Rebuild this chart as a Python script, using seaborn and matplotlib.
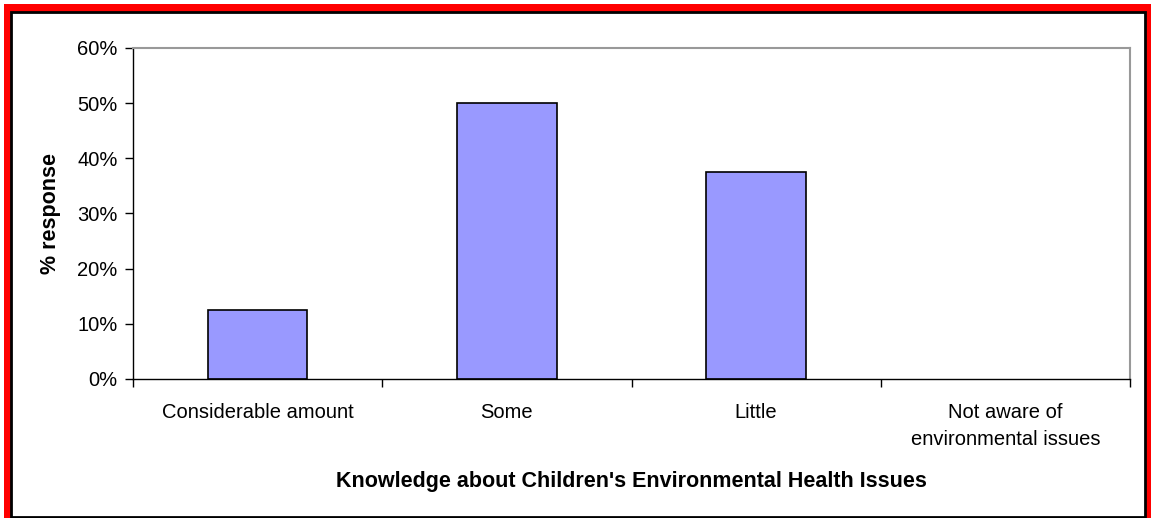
import numpy as np
import pandas as pd
import matplotlib
matplotlib.use('Agg')
import matplotlib.pyplot as plt
import seaborn as sns
from matplotlib.patches import Rectangle
from matplotlib.ticker import PercentFormatter, FixedLocator

categories = ["Considerable amount", "Some", "Little", "Not aware of\nenvironmental issues"]
response = [12.5, 50.0, 37.5, 0.0]

df = pd.DataFrame({"knowledge": categories, "response": response})

sns.set_style("white")
plt.rcParams['font.family'] = ['Liberation Sans', 'DejaVu Sans']
plt.rcParams['text.color'] = 'black'
plt.rcParams['axes.labelcolor'] = 'black'
plt.rcParams['xtick.color'] = 'black'
plt.rcParams['ytick.color'] = 'black'

W, H = 1151, 518
fig = plt.figure(figsize=(W / 100, H / 100), dpi=100)

# red outer frame, white card with thin black border (behind the axes)
fig.patches.append(Rectangle((4 / W, 0), 1, 1 - 4 / H, transform=fig.transFigure,
                             facecolor='red', edgecolor='none', zorder=-2))
fig.patches.append(Rectangle((11 / W, 1.5 / H), (1144.5 - 11) / W, (517 - 11 - 1.5) / H,
                             transform=fig.transFigure, facecolor='white',
                             edgecolor='black', linewidth=2, zorder=-1))

ax = fig.add_axes([133 / W, 1 - 379 / H, (1130 - 133) / W, (379 - 48) / H])
ax.set_facecolor('white')

sns.barplot(data=df, x="knowledge", y="response", color="#9999ff",
            edgecolor="black", linewidth=1.2, width=0.4, saturation=1, ax=ax)
for bar in ax.patches:
    if bar.get_height() == 0:
        bar.set_linewidth(0)

ax.set_ylim(0, 60)
ax.set_xlim(-0.5, 3.5)
ax.set_yticks(np.arange(0, 61, 10))
ax.yaxis.set_major_formatter(PercentFormatter(decimals=0))
ax.tick_params(axis='y', labelsize=14.5, length=6, width=1, direction='out', left=True, pad=5)
ax.tick_params(axis='x', which='major', labelsize=14.5, length=0, pad=17)
ax.xaxis.set_minor_locator(FixedLocator([-0.5, 0.5, 1.5, 2.5, 3.5]))
ax.tick_params(axis='x', which='minor', length=6, width=1, direction='out', bottom=True)
for lbl in ax.get_xticklabels():
    lbl.set_linespacing(1.55)

for side in ['left', 'bottom']:
    ax.spines[side].set_color('black')
    ax.spines[side].set_linewidth(1)
for side in ['top', 'right']:
    ax.spines[side].set_color('#999999')
    ax.spines[side].set_linewidth(1.5)

ax.set_xlabel("Knowledge about Children's Environmental Health Issues",
              fontsize=15.5, fontweight='bold', labelpad=16)
ax.set_ylabel("% response", fontsize=15.5, fontweight='bold', labelpad=12)

fig.savefig("out.png", dpi=100)
